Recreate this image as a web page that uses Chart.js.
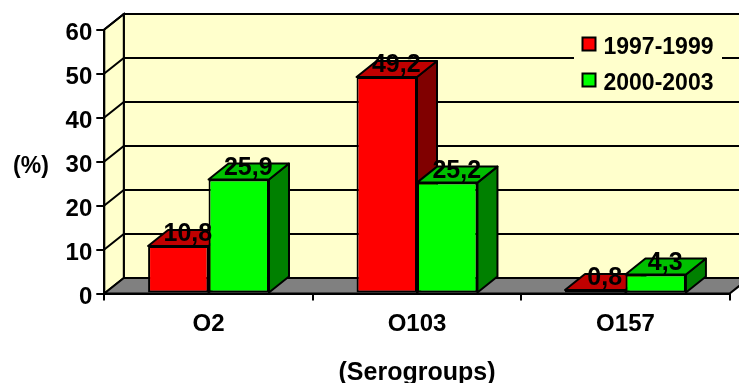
<!DOCTYPE html>
<html>
<head>
<meta charset="utf-8">
<title>Serogroups</title>
<script src="https://cdn.jsdelivr.net/npm/chart.js@4/dist/chart.umd.min.js"></script>
<style>
  html, body { margin: 0; padding: 0; background: #fff; }
  canvas { display: block; }
</style>
</head>
<body>
<canvas id="chart" width="739" height="383"></canvas>
<script>
// ----------- DATA -----------
const categories = ['O2', 'O103', 'O157'];
const series1997 = [10.8, 49.2, 0.8];
const series2000 = [25.9, 25.2, 4.3];
const seriesNames = ['1997-1999', '2000-2003'];
const yAxisLabel = '(%)';
const xAxisLabel = '(Serogroups)';

// ----------- STYLE -----------
const FONT = '"Liberation Sans", Arial, sans-serif';
const DEPTH_X = 19.5;
const DEPTH_Y = 15.5;
const BAR_DEPTH_X = 20;
const BAR_DEPTH_Y = 16;
const faceColors = [
  { top: '#C00000', side: '#800000' },
  { top: '#00C000', side: '#008000' },
];

function poly(ctx, pts, fill) {
  ctx.beginPath();
  pts.forEach((p, i) => (i ? ctx.lineTo(p[0], p[1]) : ctx.moveTo(p[0], p[1])));
  ctx.closePath();
  if (fill) {
    ctx.fillStyle = fill;
    ctx.fill();
  }
  ctx.stroke();
}

// walls, floor and gridlines behind the bars
const wallsPlugin = {
  id: 'walls',
  beforeDraw(chart) {
    const { ctx, chartArea: a, scales } = chart;
    const dx = DEPTH_X, dy = DEPTH_Y;
    ctx.save();
    ctx.strokeStyle = '#000';
    ctx.lineWidth = 2;
    ctx.lineJoin = 'miter';

    poly(ctx, [[a.left + dx, a.top - dy], [a.right + dx, a.top - dy], [a.right + dx, a.bottom - dy], [a.left + dx, a.bottom - dy]], '#FFFFCC');
    poly(ctx, [[a.left, a.top], [a.left + dx, a.top - dy], [a.left + dx, a.bottom - dy], [a.left, a.bottom]], '#FFFFCC');
    poly(ctx, [[a.left, a.bottom], [a.left + dx, a.bottom - dy], [a.right + dx, a.bottom - dy], [a.right, a.bottom]], '#808080');

    scales.y.ticks.forEach(t => {
      if (t.value === 0) return;
      const y = scales.y.getPixelForValue(t.value);
      ctx.beginPath();
      ctx.moveTo(a.left, y);
      ctx.lineTo(a.left + dx, y - dy);
      ctx.lineTo(a.right + dx, y - dy);
      ctx.stroke();
    });

    // the legend sits on a plain patch that breaks the gridline
    ctx.fillStyle = '#FFFFCC';
    ctx.fillRect(574, 30, 148, 66);
    ctx.restore();
  },

  // top and side faces; the library paints the front faces afterwards
  beforeDatasetsDraw(chart) {
    const { ctx } = chart;
    ctx.save();
    ctx.strokeStyle = '#000';
    ctx.lineWidth = 2;
    ctx.lineJoin = 'round';
    chart.data.datasets.forEach((ds, i) => {
      chart.getDatasetMeta(i).data.forEach(bar => {
        const { x, y, base, width } = bar.getProps(['x', 'y', 'base', 'width'], true);
        const l = x - width / 2, r = x + width / 2;
        poly(ctx, [[r, y], [r + BAR_DEPTH_X, y - BAR_DEPTH_Y], [r + BAR_DEPTH_X, base - BAR_DEPTH_Y], [r, base]], faceColors[i].side);
        poly(ctx, [[l, y], [l + BAR_DEPTH_X, y - BAR_DEPTH_Y], [r + BAR_DEPTH_X, y - BAR_DEPTH_Y], [r, y]], faceColors[i].top);
      });
    });
    ctx.restore();
  },

  // value labels, the horizontal y axis title and the legend
  afterDatasetsDraw(chart) {
    const { ctx, scales } = chart;
    ctx.save();
    ctx.fillStyle = '#000';
    ctx.font = 'bold 25px ' + FONT;
    ctx.textAlign = 'center';
    ctx.textBaseline = 'alphabetic';
    chart.data.datasets.forEach((ds, i) => {
      chart.getDatasetMeta(i).data.forEach((bar, j) => {
        const { x, y } = bar.getProps(['x', 'y'], true);
        ctx.fillText(String(ds.data[j]).replace('.', ','), x + 9.5, y - 5);
      });
    });

    ctx.font = 'bold 23px ' + FONT;
    ctx.fillText(yAxisLabel, 31, scales.y.getPixelForValue(30) + 11);

    ctx.textAlign = 'left';
    ctx.strokeStyle = '#000';
    ctx.lineWidth = 2;
    chart.data.datasets.forEach((ds, i) => {
      const top = 37.5 + i * 36;
      ctx.fillStyle = ds.backgroundColor;
      ctx.fillRect(582.5, top, 13, 13);
      ctx.strokeRect(582.5, top, 13, 13);
      ctx.fillStyle = '#000';
      ctx.fillText(ds.label, 603.5, 54 + i * 36);
    });
    ctx.restore();
  },
};

// ----------- CHART -----------
new Chart(document.getElementById('chart'), {
  type: 'bar',
  data: {
    labels: categories,
    datasets: [
      { label: seriesNames[0], data: series1997, backgroundColor: '#FF0000', borderColor: '#000', borderWidth: 2, borderSkipped: false },
      { label: seriesNames[1], data: series2000, backgroundColor: '#00FF00', borderColor: '#000', borderWidth: 2, borderSkipped: false },
    ],
  },
  options: {
    responsive: false,
    animation: false,
    events: [],
    layout: { padding: { top: 29.5, right: 9.3, bottom: 0, left: 0 } },
    datasets: { bar: { categoryPercentage: 0.58, barPercentage: 1 } },
    plugins: {
      tooltip: { enabled: false },
      title: { display: false },
      legend: { display: false },
    },
    scales: {
      x: {
        afterFit(scale) { scale.height = 89.5; },
        border: { display: true, color: '#000', width: 2 },
        grid: { drawOnChartArea: false, color: '#000', lineWidth: 2, tickLength: 7 },
        ticks: { color: '#000', font: { family: FONT, size: 24, weight: 'bold' }, padding: 9, maxRotation: 0 },
        title: {
          display: true,
          text: xAxisLabel,
          color: '#000',
          font: { family: FONT, size: 25, weight: 'bold' },
          padding: { top: 0, bottom: -5 },
        },
      },
      y: {
        min: 0,
        max: 60,
        afterFit(scale) { scale.width = 104.3; },
        border: { display: true, color: '#000', width: 2 },
        grid: { drawOnChartArea: false, color: '#000', lineWidth: 2, tickLength: 8 },
        ticks: { stepSize: 10, color: '#000', font: { family: FONT, size: 24, weight: 'bold' }, padding: 4, labelOffset: 3.5 },
      },
    },
  },
  plugins: [wallsPlugin],
});
</script>
</body>
</html>
